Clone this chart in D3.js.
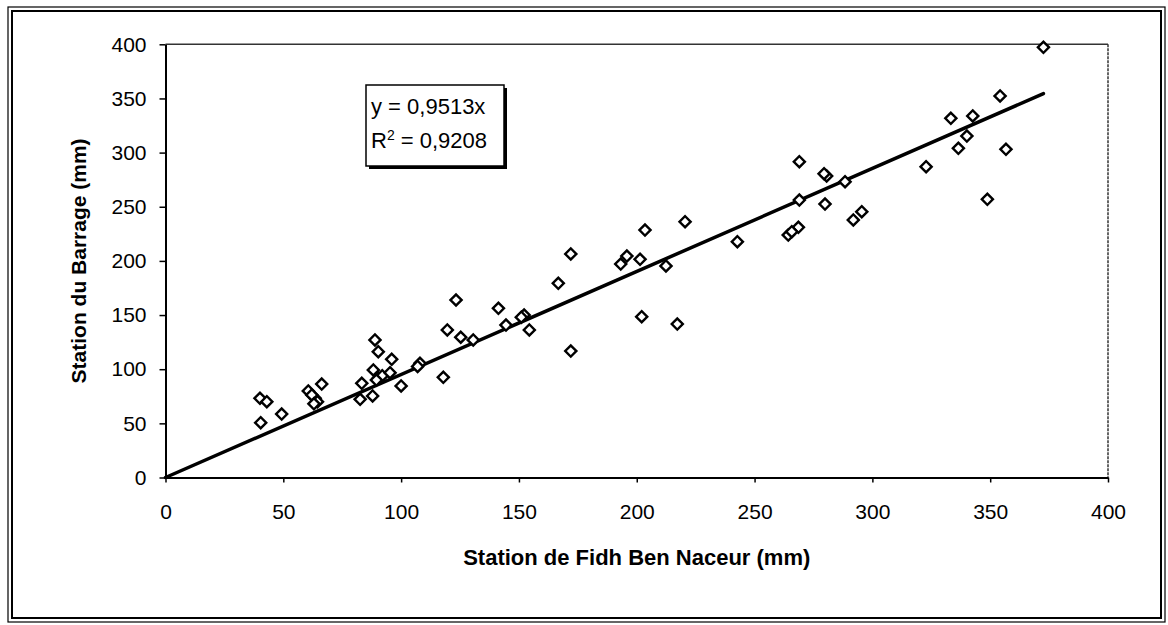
<!DOCTYPE html>
<html>
<head>
<meta charset="utf-8">
<script src="https://cdn.jsdelivr.net/npm/d3@7"></script>
<style>
  body { margin: 0; background: #fff; }
  svg text { font-family: "Liberation Sans", Arial, sans-serif; fill: #000; }
</style>
</head>
<body>
<svg id="chart" width="1168" height="625"></svg>
<script>
// Fidh Ben Naceur (x) vs Barrage (y), mm
const fidhBenNaceur = [
  40.1, 43.0, 40.4, 49.3, 60.6, 66.3, 63.5, 62.1, 64.5, 63.0,
  83.3, 82.6, 87.9, 88.9, 90.3, 88.2, 90.3, 92.0, 89.5, 96.0,
  95.3, 100.0, 108.0, 107.0, 117.9, 123.3, 119.6, 125.3, 130.6, 141.3,
  144.5, 152.2, 151.0, 154.4, 172.0, 166.7, 172.0, 203.5, 220.5, 193.2,
  195.8, 201.4, 212.4, 202.1, 217.2, 242.7, 269.0, 280.6, 279.5, 288.4,
  279.9, 269.0, 268.6, 264.3, 265.8, 291.9, 295.5, 372.6, 354.2, 333.3,
  342.6, 340.1, 336.5, 356.7, 322.8, 348.8
];
const barrage = [
  73.1, 70.0, 50.6, 58.6, 79.9, 86.3, 73.1, 76.2, 70.0, 68.0,
  87.0, 72.2, 75.3, 127.0, 116.2, 99.3, 91.6, 94.0, 90.0, 109.1,
  96.8, 84.5, 105.4, 102.5, 92.5, 163.9, 136.2, 129.5, 127.0, 156.2,
  140.8, 150.0, 148.0, 136.2, 116.8, 179.3, 206.4, 228.5, 236.2, 197.1,
  204.5, 201.5, 195.3, 148.5, 141.7, 217.7, 291.6, 278.4, 280.5, 273.1,
  252.5, 256.2, 231.0, 223.9, 227.0, 237.8, 245.4, 397.2, 352.3, 331.7,
  333.8, 315.3, 304.0, 303.0, 287.0, 256.9
];
const slope = 0.9513;
const equationLines = ["y = 0,9513x", "R² = 0,9208"];
const tickValues = [0, 50, 100, 150, 200, 250, 300, 350, 400];

const svg = d3.select("#chart");

// outer frame (double line like the scan)
svg.append("rect").attr("x", 8).attr("y", 7).attr("width", 1157).attr("height", 615)
  .attr("fill", "none").attr("stroke", "#000").attr("stroke-width", 1.2);
svg.append("rect").attr("x", 12).attr("y", 11).attr("width", 1149).attr("height", 607)
  .attr("fill", "none").attr("stroke", "#000").attr("stroke-width", 2);

const plot = { left: 165.5, right: 1108, top: 44.3, bottom: 477.5 };

const x = d3.scaleLinear().domain([0, 400]).range([plot.left, plot.right]);
const y = d3.scaleLinear().domain([0, 400]).range([plot.bottom, plot.top]);

// plot area border
svg.append("line").attr("x1", plot.left).attr("x2", plot.right)
  .attr("y1", plot.top).attr("y2", plot.top)
  .attr("stroke", "#333").attr("stroke-width", 1.5);
svg.append("line").attr("x1", plot.right).attr("x2", plot.right)
  .attr("y1", plot.top).attr("y2", plot.bottom)
  .attr("stroke", "#333").attr("stroke-width", 1.5).attr("stroke-dasharray", "3,1");

// axes
const yAxis = svg.append("g")
  .attr("transform", `translate(${plot.left},0)`)
  .call(d3.axisLeft(y).tickValues(tickValues).tickSize(6).tickSizeOuter(0).tickPadding(13));
const xAxis = svg.append("g")
  .attr("transform", `translate(0,${plot.bottom})`)
  .call(d3.axisBottom(x).tickValues(tickValues).tickSize(5).tickSizeOuter(0).tickPadding(22));

[xAxis, yAxis].forEach(g => {
  g.select(".domain").attr("stroke", "#000").attr("stroke-width", 2);
  g.selectAll(".tick line").attr("stroke", "#000").attr("stroke-width", 1.5);
  g.selectAll(".tick text").attr("font-size", 21).attr("font-family", "Liberation Sans, Arial, sans-serif");
});

// axis titles
svg.append("text")
  .attr("x", (plot.left + plot.right) / 2).attr("y", 565)
  .attr("text-anchor", "middle").attr("font-size", 22).attr("font-weight", "bold")
  .text("Station de Fidh Ben Naceur (mm)");
svg.append("text")
  .attr("transform", `translate(86,${(plot.top + plot.bottom) / 2}) rotate(-90)`)
  .attr("text-anchor", "middle").attr("font-size", 21).attr("font-weight", "bold")
  .text("Station du Barrage (mm)");

// trend line y = 0.9513x
const xMax = d3.max(fidhBenNaceur);
svg.append("line")
  .attr("x1", x(0)).attr("y1", y(0))
  .attr("x2", x(xMax)).attr("y2", y(slope * xMax))
  .attr("stroke", "#000").attr("stroke-width", 3.5).attr("stroke-linecap", "round");

// points
const diamond = d3.symbol().type(d3.symbolSquare).size(62);
svg.append("g").selectAll("path")
  .data(d3.range(fidhBenNaceur.length))
  .join("path")
  .attr("d", diamond)
  .attr("transform", i => `translate(${x(fidhBenNaceur[i])},${y(barrage[i])}) rotate(45)`)
  .attr("fill", "#fff").attr("stroke", "#000").attr("stroke-width", 2.4);

// equation box
const box = svg.append("g").attr("transform", "translate(366,85)");
box.append("rect").attr("x", 3).attr("y", 3).attr("width", 138).attr("height", 81).attr("fill", "#000");
box.append("rect").attr("width", 138).attr("height", 81)
  .attr("fill", "#fff").attr("stroke", "#000").attr("stroke-width", 1.5);
box.append("text").attr("x", 5).attr("y", 29).attr("font-size", 22).text(equationLines[0]);
box.append("text").attr("x", 5).attr("y", 63).attr("font-size", 22)
  .text("R").append("tspan").attr("baseline-shift", "super").attr("font-size", 14).text("2")
  .select(function() { return this.parentNode; })
  .append("tspan").text(" = 0,9208");
</script>
</body>
</html>
